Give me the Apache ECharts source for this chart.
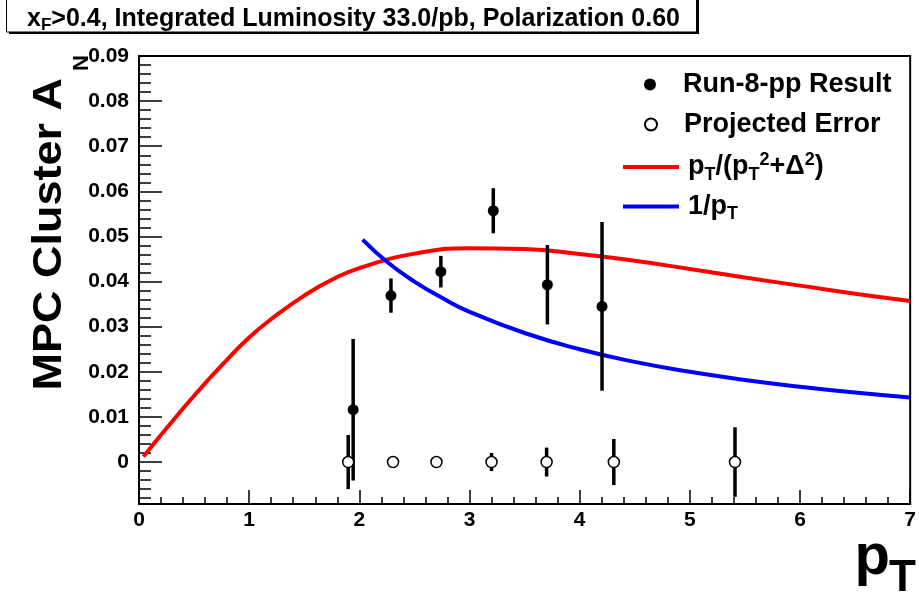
<!DOCTYPE html>
<html>
<head>
<meta charset="utf-8">
<script src="https://cdn.jsdelivr.net/npm/echarts@6/dist/echarts.min.js"></script>
<style>
  html, body { margin: 0; padding: 0; background: #fff; }
  #chart { width: 919px; height: 598px; }
</style>
</head>
<body>
<div id="chart"></div>
<script>
// Run-8-pp measured points
const runPt = [1.944, 2.287, 2.74, 3.216, 3.707, 4.203]
const runAN = [0.0116, 0.0369, 0.0422, 0.0557, 0.0393, 0.0345]
const runErr = [0.0157, 0.0038, 0.0035, 0.0050, 0.0088, 0.0187]

// projected errors (plotted at zero)
const projPt = [1.899, 2.306, 2.70, 3.20, 3.70, 4.31, 5.41]
const projAN = [0, 0, 0, 0, 0, 0, 0]
const projErr = [0.0060, 0.0009, 0.0008, 0.0020, 0.0032, 0.0051, 0.0077]

// curves
const redPt = [0.04, 0.25, 0.5, 0.75, 1, 1.25, 1.5, 1.75, 2, 2.5, 3, 3.5, 4, 4.5, 5, 5.5, 6, 6.5, 7]
const redAN = [0.0012, 0.0075, 0.0147, 0.0214, 0.0276, 0.0326, 0.0369, 0.0404, 0.0430, 0.0462, 0.0474, 0.0472, 0.0461, 0.0446, 0.0428, 0.0409, 0.0391, 0.0373, 0.0357]
const bluePt = [2.03, 2.25, 2.5, 2.75, 3, 3.5, 4, 4.5, 5, 5.5, 6, 6.5, 7]
const blueAN = [0.0493, 0.0444, 0.0400, 0.0364, 0.0333, 0.0286, 0.0250, 0.0222, 0.0200, 0.0182, 0.0167, 0.0154, 0.0143]

// axis ticks
const yMajor = [0, 0.01, 0.02, 0.03, 0.04, 0.05, 0.06, 0.07, 0.08, 0.09]
const yMinor = []
for (let k = -4; k < 45; k++) {
  if (k % 5 !== 0) yMinor.push(+(k * 0.002).toFixed(3))
}

const FONT = '"Liberation Sans", Arial, Helvetica, sans-serif'

const chart = echarts.init(document.getElementById('chart'))

const errorBars = (pts, vals, errs) => pts.map((p, i) => [p, vals[i], errs[i]])

const renderErr = (params, api) => {
  const x = api.value(0)
  const y = api.value(1)
  const e = api.value(2)
  const a = api.coord([x, y + e])
  const b = api.coord([x, y - e])
  return {
    type: 'line',
    shape: { x1: a[0], y1: a[1], x2: b[0], y2: b[1] },
    style: { stroke: '#000', lineWidth: 3.5 }
  }
}

const richSub = {
  s: { fontFamily: FONT, fontWeight: 'bold', fontSize: 18, color: '#000', padding: [16, 0, 0, 0] },
  u: { fontFamily: FONT, fontWeight: 'bold', fontSize: 18, color: '#000', padding: [0, 0, 14, 0] }
}

const dotLegend = {
  left: 639,
  orient: 'vertical',
  itemWidth: 12,
  itemHeight: 12,
  selectedMode: false,
  textStyle: {
    fontFamily: FONT,
    fontWeight: 'bold',
    fontSize: 27,
    color: '#000',
    padding: [0, 0, 0, 22]
  }
}

const lineLegend = {
  left: 618,
  orient: 'vertical',
  itemWidth: 56,
  itemHeight: 12,
  selectedMode: false,
  textStyle: {
    fontFamily: FONT,
    fontWeight: 'bold',
    fontSize: 27,
    color: '#000',
    padding: [0, 0, 0, 4],
    rich: richSub
  }
}

const option = {
  animation: false,
  backgroundColor: '#fff',
  legend: [
    Object.assign({}, dotLegend, { top: 66, data: [{ name: 'Run-8-pp Result', icon: 'circle' }] }),
    Object.assign({}, dotLegend, { top: 106, data: [{ name: 'Projected Error', icon: 'circle' }] }),
    Object.assign({}, lineLegend, {
      top: 146,
      data: [{ name: 'red', icon: 'path://M0,0H56V4H0Z' }],
      formatter: () => 'p{s|T}/(p{s|T}{u|2}+Δ{u|2})'
    }),
    Object.assign({}, lineLegend, {
      top: 188,
      data: [{ name: 'blue', icon: 'path://M0,0H56V4H0Z' }],
      formatter: () => '1/p{s|T}'
    })
  ],
  grid: {
    left: 139,
    right: 6,
    top: 56,
    bottom: 94,
    show: true,
    borderColor: '#000',
    borderWidth: 2
  },
  xAxis: {
    type: 'value',
    min: 0,
    max: 7,
    interval: 1,
    axisLine: { onZero: false, lineStyle: { color: '#000', width: 2 } },
    axisTick: { inside: true, length: 14, lineStyle: { color: '#000', width: 1.5 } },
    minorTick: { show: true, splitNumber: 5, length: 7, lineStyle: { color: '#000', width: 1.5 } },
    splitLine: { show: false },
    axisLabel: { color: '#000', fontFamily: FONT, fontWeight: 'bold', fontSize: 21, margin: 6 }
  },
  yAxis: [
    {
      type: 'value',
      min: -0.0093,
      max: 0.09,
      axisLine: { show: true, onZero: false, lineStyle: { color: '#000', width: 2 } },
      axisTick: { inside: true, length: 23, customValues: yMajor, lineStyle: { color: '#000', width: 1.5 } },
      splitLine: { show: false },
      axisLabel: {
        customValues: yMajor,
        color: '#000',
        fontFamily: FONT,
        fontWeight: 'bold',
        fontSize: 21,
        margin: 10,
        formatter: v => (Math.abs(v) < 1e-9 ? '0' : v.toFixed(2))
      }
    },
    {
      type: 'value',
      min: -0.0093,
      max: 0.09,
      position: 'left',
      offset: 0,
      axisLine: { show: false, onZero: false },
      axisTick: { inside: true, length: 12, customValues: yMinor, lineStyle: { color: '#000', width: 1.5 } },
      splitLine: { show: false },
      axisLabel: { show: false }
    }
  ],
  graphic: [
    // title box with drop shadow
    {
      type: 'rect',
      shape: { x: 9, y: -3, width: 690, height: 37 },
      style: { fill: '#000' }
    },
    {
      type: 'rect',
      shape: { x: 6.5, y: -5, width: 690, height: 37 },
      style: { fill: '#fff', stroke: '#000', lineWidth: 1 }
    },
    {
      type: 'text',
      x: 27,
      y: 19,
      style: {
        text: '{a|x}{s|F}{a|>0.4, Integrated Luminosity 33.0/pb, Polarization 0.60}',
        textAlign: 'left',
        textVerticalAlign: 'middle',
        rich: {
          a: { fontFamily: FONT, fontWeight: 'bold', fontSize: 25, fill: '#000' },
          s: { fontFamily: FONT, fontWeight: 'bold', fontSize: 17, fill: '#000', padding: [13, 0, 0, 0] }
        }
      }
    },
    // y axis title
    {
      type: 'text',
      x: 50,
      y: 78,
      rotation: Math.PI / 2,
      scaleX: 1.125,
      style: {
        text: 'MPC Cluster A',
        fontFamily: FONT,
        fontWeight: 'bold',
        fontSize: 40,
        fill: '#000',
        textAlign: 'right',
        textVerticalAlign: 'middle'
      }
    },
    {
      type: 'text',
      x: 82,
      y: 55,
      rotation: Math.PI / 2,
      style: {
        text: 'N',
        fontFamily: FONT,
        fontWeight: 'bold',
        fontSize: 22,
        fill: '#000',
        textAlign: 'right',
        textVerticalAlign: 'middle'
      }
    },
    // x axis title
    {
      type: 'text',
      x: 890,
      y: 558,
      style: {
        text: 'p',
        fontFamily: FONT,
        fontWeight: 'bold',
        fontSize: 58,
        fill: '#000',
        textAlign: 'right',
        textVerticalAlign: 'middle'
      }
    },
    {
      type: 'text',
      x: 916,
      y: 579,
      style: {
        text: 'T',
        fontFamily: FONT,
        fontWeight: 'bold',
        fontSize: 44,
        fill: '#000',
        textAlign: 'right',
        textVerticalAlign: 'middle'
      }
    }
  ],
  series: [
    {
      name: 'red',
      type: 'line',
      data: redPt.map((p, i) => [p, redAN[i]]),
      smooth: true,
      showSymbol: false,
      lineStyle: { color: '#ff0000', width: 4 },
      itemStyle: { color: '#ff0000' },
      z: 2
    },
    {
      name: 'blue',
      type: 'line',
      data: bluePt.map((p, i) => [p, blueAN[i]]),
      smooth: true,
      showSymbol: false,
      lineStyle: { color: '#0000ff', width: 4 },
      itemStyle: { color: '#0000ff' },
      z: 3
    },
    {
      type: 'custom',
      renderItem: renderErr,
      data: errorBars(projPt, projAN, projErr),
      z: 4
    },
    {
      type: 'custom',
      renderItem: renderErr,
      data: errorBars(runPt, runAN, runErr),
      z: 4
    },
    {
      name: 'Projected Error',
      type: 'scatter',
      data: projPt.map((p, i) => [p, projAN[i]]),
      symbol: 'circle',
      symbolSize: 11,
      itemStyle: { color: '#fff', borderColor: '#000', borderWidth: 1.5, opacity: 1 },
      z: 5
    },
    {
      name: 'Run-8-pp Result',
      type: 'scatter',
      data: runPt.map((p, i) => [p, runAN[i]]),
      symbol: 'circle',
      symbolSize: 11,
      itemStyle: { color: '#000', opacity: 1 },
      z: 6
    }
  ]
}

chart.setOption(option)
</script>
</body>
</html>
